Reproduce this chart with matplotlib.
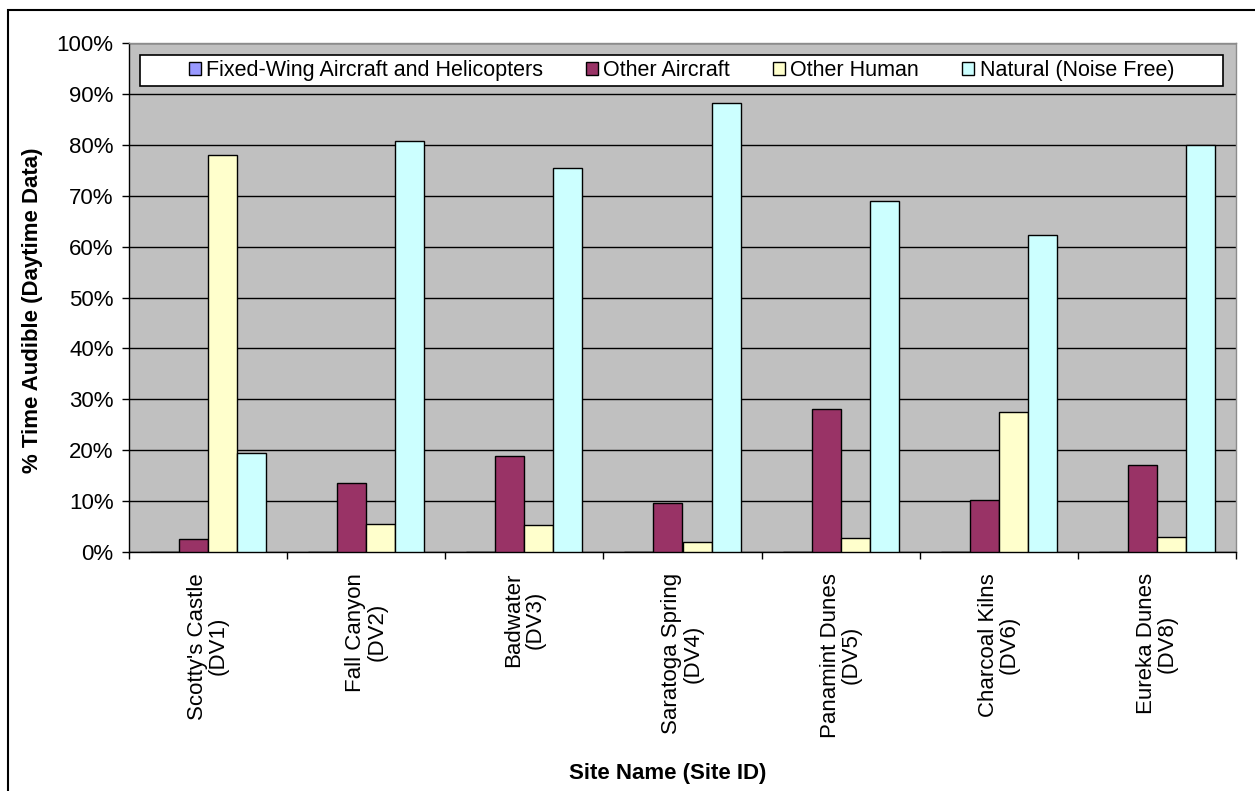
import numpy as np
import matplotlib
matplotlib.use("Agg")
import matplotlib.pyplot as plt
from matplotlib.patches import Rectangle

plt.rcParams['font.family'] = ['Liberation Sans', 'DejaVu Sans']

# data (% of daytime audible)
sites = ["Scotty's Castle\n(DV1)", "Fall Canyon\n(DV2)", "Badwater\n(DV3)",
         "Saratoga Spring\n(DV4)", "Panamint Dunes\n(DV5)", "Charcoal Kilns\n(DV6)",
         "Eureka Dunes\n(DV8)"]
fixed_wing = [0.0, 0.0, 0.0, 0.0, 0.0, 0.0, 0.0]
other_aircraft = [2.5, 13.5, 18.9, 9.7, 28.1, 10.2, 17.0]
other_human = [78.0, 5.5, 5.3, 2.0, 2.8, 27.6, 3.0]
natural = [19.5, 80.8, 75.5, 88.3, 69.0, 62.2, 80.0]

series_names = ["Fixed-Wing Aircraft and Helicopters", "Other Aircraft",
                "Other Human", "Natural (Noise Free)"]
series_colors = ["#9999FF", "#993366", "#FFFFCC", "#CCFFFF"]
yticks = np.arange(0, 101, 10)

W, H = 1255, 791
fig = plt.figure(figsize=(W / 100, H / 100), dpi=100)
ax = fig.add_axes([129 / W, 1 - 552 / H, (1236 - 129) / W, (552 - 43) / H])
ax.set_facecolor("#C0C0C0")

x = np.arange(len(sites))
bw = 0.1835
handles = []
for i, (vals, col, name) in enumerate(zip([fixed_wing, other_aircraft, other_human, natural],
                                          series_colors, series_names)):
    b = ax.bar(x + (i - 1.5) * bw, vals, bw, color=col, edgecolor="black",
               linewidth=1.0, label=name, zorder=3)
    handles.append(b)

ax.set_xlim(-0.5, len(sites) - 0.5)
ax.set_ylim(0, 100)
ax.set_yticks(yticks)
ax.set_yticklabels([f"{v}%" for v in yticks], fontsize=16)
ax.yaxis.grid(True, color="black", linewidth=1.0, zorder=1)
ax.set_axisbelow(True)

ax.set_xticks(x)
ax.set_xticklabels(sites, rotation=90, fontsize=16, va="top", ha="center",
                   multialignment="center", linespacing=1.0)
ax.set_xticks(np.arange(-0.5, len(sites)), minor=True)
ax.tick_params(axis="x", which="major", length=0, pad=15)
ax.tick_params(axis="x", which="minor", length=5, width=1, direction="out")
ax.tick_params(axis="y", length=5, width=1, direction="out", pad=6)

for s in ["left", "bottom"]:
    ax.spines[s].set_color("black")
    ax.spines[s].set_linewidth(1.0)
for s in ["top", "right"]:
    ax.spines[s].set_color("#8C8C8C")
    ax.spines[s].set_linewidth(1.0)

# legend box (white, framed) spanning the top of the plot area
lx0, lx1, ly0, ly1 = 140, 1223, 55, 86
ax.add_patch(Rectangle(((lx0 - 129) / 1107, (552 - ly1) / 509), (lx1 - lx0) / 1107,
                       (ly1 - ly0) / 509, transform=ax.transAxes, facecolor="white",
                       edgecolor="black", linewidth=1.2, zorder=4))
leg = ax.legend(handles=handles, loc="center", ncol=4, frameon=False, fontsize=15.5,
                bbox_to_anchor=(((lx0 + lx1) / 2 - 129) / 1107, (552 - (ly0 + ly1) / 2) / 509),
                handlelength=0.55, handleheight=0.55, handletextpad=0.25,
                columnspacing=2.0, borderaxespad=0)
leg.set_zorder(5)

fig.text(33 / W, 1 - 310 / H, "% Time Audible (Daytime Data)", rotation=90,
         ha="center", va="center", fontsize=16, fontweight="bold")
fig.text(668 / W, 1 - 773 / H, "Site Name (Site ID)", ha="center", va="center",
         fontsize=16, fontweight="bold")

# outer chart border (top and left visible; the rest is cropped off)
fig.add_artist(Rectangle((8 / W, -0.1), 1.5, 1.1 - 10 / H, transform=fig.transFigure,
                         fill=False, edgecolor="black", linewidth=1.5))

fig.savefig("out.png", dpi=100)
